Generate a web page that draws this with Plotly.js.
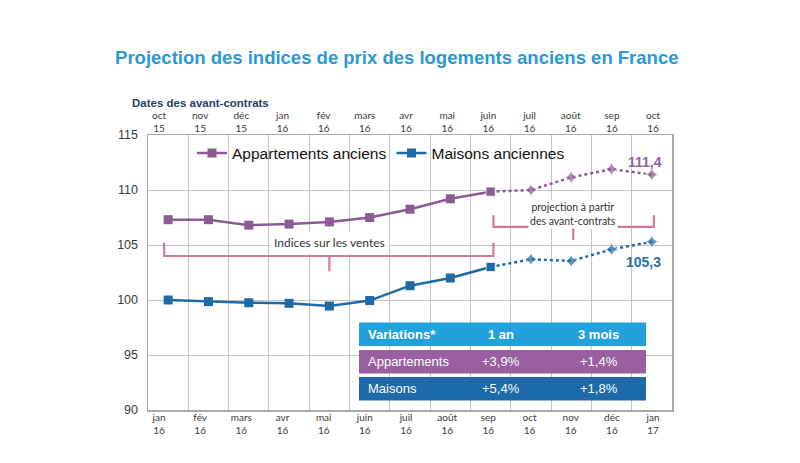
<!DOCTYPE html>
<html><head><meta charset="utf-8">
<script src="https://cdn.plot.ly/plotly-3.0.1.min.js"></script>
<style>html,body{margin:0;padding:0;background:#fff}#chart{width:800px;height:463px}</style>
</head><body><div id="chart"></div>
<script>
// ---- data ----
var contractMonths = ['oct 15','nov 15','déc 15','jan 16','fév 16','mars 16','avr 16','mai 16','juin 16','juil 16','août 16','sep 16','oct 16'];
var saleMonths = ['jan 16','fév 16','mars 16','avr 16','mai 16','juin 16','juil 16','août 16','sep 16','oct 16','nov 16','déc 16','jan 17'];
var aptActual = [107.3, 107.3, 106.8, 106.9, 107.1, 107.5, 108.25, 109.2, 109.85];
var aptProjection = [109.85, 110.0, 111.15, 111.9, 111.4];
var maisActual = [100.0, 99.85, 99.75, 99.7, 99.45, 99.95, 101.3, 102.0, 103.0];
var maisProjection = [103.0, 103.7, 103.55, 104.6, 105.3];
var seriesNames = ['Appartements anciens', 'Maisons anciennes'];
var endLabels = ['111,4', '105,3'];
var tableHeader = ['Variations*', '1 an', '3 mois'];
var tableRowNames = ['Appartements', 'Maisons'];
var tableYear = ['+3,9%', '+5,4%'];
var tableQuarter = ['+1,4%', '+1,8%'];

var PURPLE = '#8c5a94', BLUE = '#1d6aa6', PINK = '#d5789f';
var nA = aptActual.length;
var xActual = saleMonths.slice(0, nA);
var xProj = saleMonths.slice(nA - 1);
var idx = contractMonths.map(function(d, i){ return i; });

function projSymbols(arr){ return arr.map(function(v, i){ return i === 0 ? 'square' : 'star-diamond'; }); }
function projSizes(arr){ return arr.map(function(v, i){ return i === 0 ? 9 : 10; }); }

var traces = [
  {x: xActual, y: aptActual, name: seriesNames[0], type: 'scatter', mode: 'lines+markers',
   line: {color: PURPLE, width: 2.5}, marker: {symbol: 'square', size: 9, color: PURPLE}},
  {x: xProj, y: aptProjection, showlegend: false, type: 'scatter', mode: 'lines+markers',
   line: {color: PURPLE, width: 2.5, dash: 'dot'}, marker: {symbol: projSymbols(aptProjection), size: projSizes(aptProjection), color: PURPLE}},
  {x: xActual, y: maisActual, name: seriesNames[1], type: 'scatter', mode: 'lines+markers',
   line: {color: BLUE, width: 2.5}, marker: {symbol: 'square', size: 9, color: BLUE}},
  {x: xProj, y: maisProjection, showlegend: false, type: 'scatter', mode: 'lines+markers',
   line: {color: BLUE, width: 2.5, dash: 'dot'}, marker: {symbol: projSymbols(maisProjection), size: projSizes(maisProjection), color: BLUE}},
  // carriers for the two date axes (contract dates on top, sale dates at bottom); nothing visible
  {x: idx, y: idx.map(function(){ return null; }), xaxis: 'x2', yaxis: 'y', type: 'scatter', mode: 'markers', showlegend: false, hoverinfo: 'skip', marker: {opacity: 0}},
  {x: idx, y: idx.map(function(){ return null; }), xaxis: 'x3', yaxis: 'y', type: 'scatter', mode: 'markers', showlegend: false, hoverinfo: 'skip', marker: {opacity: 0}}
];

var tickFont = {family: 'Lato, Open Sans, sans-serif', size: 10, color: '#3a3a3a'};
var GRID = '#c4c4c4', BORDER = '#a9a9a9';

// pixel -> paper helpers (plot area 148..672 x 135..410)
function px(p){ return (p - 148) / 524; }
function py(p){ return (410 - p) / 275; }

var shapes = [
  {type: 'path', xref: 'x', yref: 'y', path: 'M -0.1,105.2 L -0.1,104.0 L 8.07,104.0 L 8.07,105.2', line: {color: PINK, width: 2.2}},
  {type: 'line', xref: 'x', yref: 'y', x0: 4.0, x1: 4.0, y0: 104.0, y1: 102.6, line: {color: PINK, width: 2.2}},
  {type: 'path', xref: 'x', yref: 'y', path: 'M 8.07,107.7 L 8.07,106.65 L 12.05,106.65 L 12.05,107.7', line: {color: PINK, width: 2.2}},
  {type: 'line', xref: 'x', yref: 'y', x0: 10.05, x1: 10.05, y0: 106.65, y1: 105.45, line: {color: PINK, width: 2.2}},
  {type: 'rect', xref: 'paper', yref: 'paper', x0: px(359), x1: px(646), y0: py(346), y1: py(322.5), fillcolor: '#22a1dd', line: {width: 0}},
  {type: 'rect', xref: 'paper', yref: 'paper', x0: px(359), x1: px(646), y0: py(373.5), y1: py(350), fillcolor: '#9a5fa0', line: {width: 0}},
  {type: 'rect', xref: 'paper', yref: 'paper', x0: px(359), x1: px(646), y0: py(400.5), y1: py(377), fillcolor: '#1d6aab', line: {width: 0}}
];

var cellFont = {family: 'Liberation Sans, Arial, sans-serif', size: 13, color: '#ffffff'};
var colX = [px(366), px(501), px(598.5)];
var rowY = [py(334.3), py(361.7), py(388.7)];
var annotations = [
  {xref: 'paper', yref: 'paper', x: px(130), y: py(103), xanchor: 'left', yanchor: 'middle', showarrow: false,
   text: '<b>Dates des avant-contrats</b>', font: {family: 'Liberation Sans, Arial, sans-serif', size: 11.5, color: '#2b3a72'}},
  {xref: 'x', yref: 'y', x: 4.0, y: 105.2, showarrow: false, text: 'Indices sur les ventes', bgcolor: '#ffffff', borderpad: 3,
   font: {family: 'Lato, sans-serif', size: 12, color: '#333'}},
  {xref: 'x', yref: 'y', x: 10.05, y: 107.85, showarrow: false, text: 'projection à partir<br>des avant-contrats', bgcolor: '#ffffff', borderpad: 1,
   font: {family: 'Lato, sans-serif', size: 10.5, color: '#333'}},
  {xref: 'x', yref: 'y', x: 12, y: aptProjection[aptProjection.length - 1], xshift: -7, yshift: 13, showarrow: false, text: '<b>' + endLabels[0] + '</b>',
   font: {family: 'Liberation Sans, Arial, sans-serif', size: 14, color: '#8f62a0'}},
  {xref: 'x', yref: 'y', x: 12, y: maisProjection[maisProjection.length - 1], xshift: -8, yshift: -20, showarrow: false, text: '<b>' + endLabels[1] + '</b>',
   font: {family: 'Liberation Sans, Arial, sans-serif', size: 14, color: '#2c6e9c'}}
];
tableHeader.forEach(function(t, c){
  annotations.push({xref: 'paper', yref: 'paper', x: colX[c], y: rowY[0], xanchor: c === 0 ? 'left' : 'center', yanchor: 'middle',
    showarrow: false, text: '<b>' + t + '</b>', font: cellFont});
});
tableRowNames.forEach(function(name, r){
  [name, tableYear[r], tableQuarter[r]].forEach(function(t, c){
    annotations.push({xref: 'paper', yref: 'paper', x: colX[c], y: rowY[r + 1], xanchor: c === 0 ? 'left' : 'center', yanchor: 'middle',
      showarrow: false, text: t, font: cellFont});
  });
});

var layout = {
  width: 800, height: 463,
  margin: {l: 148, r: 128, t: 135, b: 53},
  paper_bgcolor: '#ffffff', plot_bgcolor: '#ffffff',
  title: {text: 'Projection des indices de prix des logements anciens en France', x: 0.496, xref: 'container', xanchor: 'center',
          y: 1 - 58 / 463, yref: 'container', yanchor: 'middle',
          font: {family: 'Liberation Sans, Arial, sans-serif', size: 18.5, color: '#2a9ad5', weight: 'bold'}},
  showlegend: true,
  legend: {orientation: 'h', x: 0.084, y: py(153.5), xanchor: 'left', yanchor: 'middle', bgcolor: 'rgba(0,0,0,0)',
           font: {family: 'Liberation Sans, Arial, sans-serif', size: 15.5, color: '#111'}},
  xaxis: {type: 'category', categoryorder: 'array', categoryarray: saleMonths, range: [-0.5, 12.5], tickson: 'boundaries',
          showticklabels: false, ticks: '', showgrid: true, gridcolor: GRID, gridwidth: 1,
          showline: true, mirror: true, linecolor: BORDER, linewidth: 1.5, zeroline: false},
  xaxis2: {overlaying: 'x', side: 'top', anchor: 'y', range: [-0.267, 12.46], tickmode: 'array', tickvals: idx,
           ticktext: contractMonths.map(function(s){ return s.replace(' ', '<br>'); }), showgrid: false, zeroline: false,
           showline: false, ticks: '', tickfont: tickFont},
  xaxis3: {overlaying: 'x', side: 'bottom', anchor: 'y', range: [-0.267, 12.46], tickmode: 'array', tickvals: idx,
           ticktext: saleMonths.map(function(s){ return s.replace(' ', '<br>'); }), showgrid: false, zeroline: false,
           showline: false, ticks: '', tickfont: tickFont},
  yaxis: {range: [90, 115], dtick: 5, tick0: 90, showgrid: true, gridcolor: GRID, gridwidth: 1, ticks: '', zeroline: false,
          showline: true, mirror: true, linecolor: BORDER, linewidth: 1.5, ticklabelstandoff: 6,
          tickfont: {family: 'Liberation Sans, Arial, sans-serif', size: 12.5, color: '#3a3a3a'}},
  shapes: shapes,
  annotations: annotations
};

Plotly.newPlot('chart', traces, layout, {displayModeBar: false, staticPlot: true});
</script></body></html>
